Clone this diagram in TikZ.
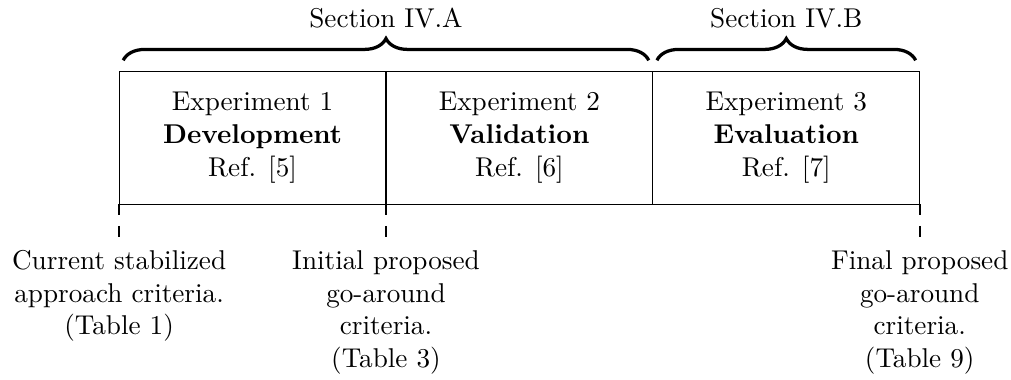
\documentclass[tikz,border=0pt]{standalone}
\usepackage{tikz}
\usetikzlibrary{positioning,decorations.pathreplacing}

\tikzset{
  expbox/.style={draw, outer sep=0pt, inner sep=0pt, minimum width=3.45cm, minimum height=1.72cm, align=center},
  sectbrace/.style={decorate, decoration={brace, amplitude=8pt}, very thick},
  mstick/.style={thick, dash pattern=on 4pt off 4pt},
  result/.style={align=center, inner sep=3.33pt}
}

\begin{document}
\begin{tikzpicture}
        \useasboundingbox (-1.54,-2.26) rectangle (11.53,2.64);
        % experiment boxes
        \node[expbox, anchor=south west] (exp1) at (0,0) {Experiment 1\\\textbf{Development}\\Ref. [5]};
        \node[expbox, right=0pt of exp1] (exp2) {Experiment 2\\\textbf{Validation}\\Ref. [6]};
        \node[expbox, right=0pt of exp2] (exp3) {Experiment 3\\\textbf{Evaluation}\\Ref. [7]};
        % section braces
        \draw[sectbrace] ([xshift=1.5pt, yshift=4pt]exp1.north west) -- ([xshift=-1.5pt, yshift=4pt]exp2.north east)
          node[midway, above=8pt] (secA) {Section IV.A};
        \draw[sectbrace] ([xshift=1.5pt, yshift=4pt]exp3.north west) -- ([xshift=-1.5pt, yshift=4pt]exp3.north east)
          node[midway, above=8pt] (secB) {Section IV.B};
        % milestones
        \coordinate[below=12pt of exp1.south west] (t1);
        \coordinate[below=12pt of exp1.south east] (t2);
        \coordinate[below=12pt of exp3.south east] (t3);
        \draw[mstick] (exp1.south west) -- (t1);
        \draw[mstick] (exp1.south east) -- (t2);
        \draw[mstick] (exp3.south east) -- (t3);
        \node[result, below=1.5pt of t1] (crit1) {Current stabilized\\approach criteria.\\(Table 1)};
        \node[result, below=1.5pt of t2] (crit2) {Initial proposed\\go-around\\criteria.\\(Table 3)};
        \node[result, below=1.5pt of t3] (crit3) {Final proposed\\go-around\\criteria.\\(Table 9)};
      \end{tikzpicture}
\end{document}
